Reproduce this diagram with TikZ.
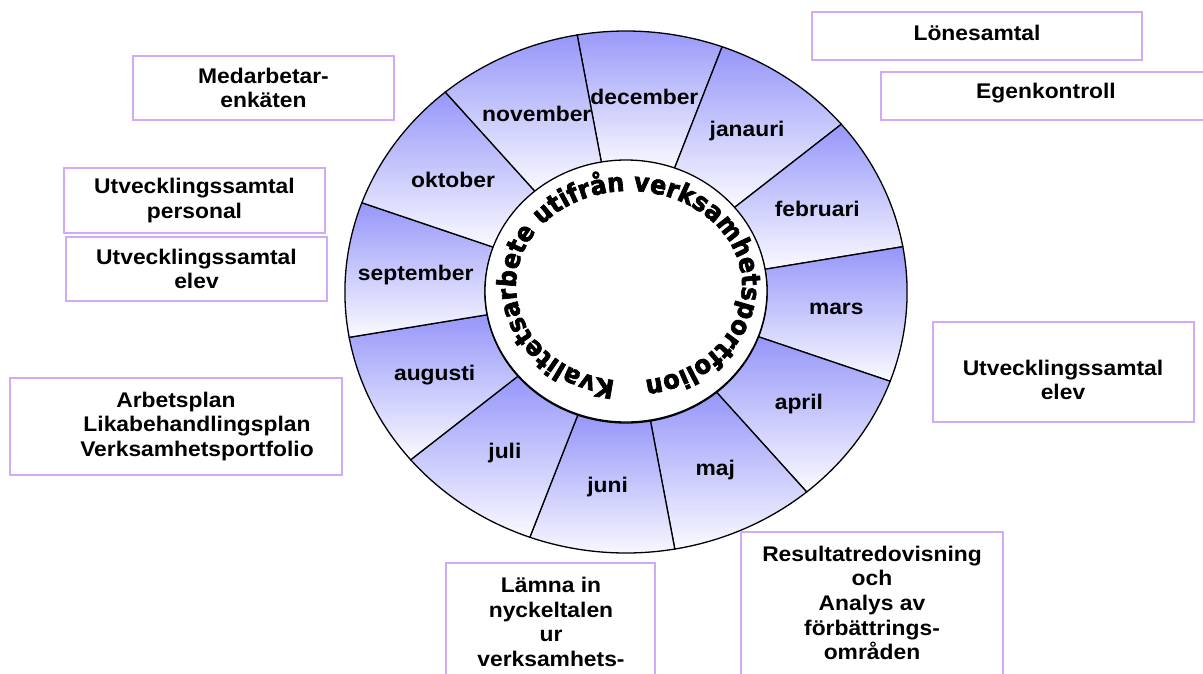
\documentclass[tikz,border=0pt]{standalone}
\usepackage{fontspec}
\setmainfont{Liberation Sans}[FakeStretch=1.077]
\newfontfamily\ringfont{DejaVu Sans Bold}[FakeBold=2.5, FakeStretch=0.92]
\usetikzlibrary{decorations.text}
\definecolor{segtop}{RGB}{150,150,250}
\definecolor{segbot}{RGB}{250,250,255}
\definecolor{boxline}{RGB}{210,170,250}
\tikzset{
  lbl/.style={font=\fontsize{21.2}{24.7}\selectfont\bfseries, align=center, inner sep=0pt},
  infobox/.style={draw=boxline, line width=1.5pt, fill=white, inner sep=0pt},
  seg/.style={top color=segtop, bottom color=segbot, draw=black, line width=1.3pt},
  hub/.style={draw=black, fill=white, line width=1.3pt}
}
\begin{document}
\begin{tikzpicture}[x=1pt,y=1pt]
\useasboundingbox (0,0) rectangle (1203,-673);
\clip (0,0) rectangle (1203,-673);
\fill[white] (0,0) rectangle (1203,-673);

% wheel segments
\begin{scope}[shift={(626,-292)}, xscale=1.077]
\foreach \a/\m [count=\i] in {85/december,55/janauri,25/februari,-5/mars,-35/april,-65/maj,-95/juni,-125/juli,-155/augusti,175/september,145/oktober,115/november}{
  \shadedraw[seg] (\a+15:261) arc[start angle=\a+15, end angle=\a-15, radius=261]
     -- (\a-15:131) arc[start angle=\a-15, end angle=\a+15, radius=131] -- cycle;
  \node[lbl] (m\i) at (\a:196) {\m};
}
\end{scope}

% hub
\draw[hub] (626,-291) ellipse [x radius=141, y radius=131];
\path[decorate, decoration={text along path,
   text={|\ringfont\fontsize{26}{26}\selectfont|Kvalitetsarbete utifrån verksamhetsportfolion},
   text align={fit to path}}]
   (629,-286) ++(-97:113 and 95) arc[start angle=-97, end angle=-442, x radius=113, y radius=95];

% boxes left
\node[infobox, lbl, minimum width=261, minimum height=64] (medb) at (263.5,-88) {Medarbetar-\\enkäten};
\node[infobox, lbl, minimum width=261, minimum height=65] (utvp) at (194.5,-200.5) {Utvecklingssamtal\\personal};
\node[infobox, lbl, minimum width=261, minimum height=64] (utvl) at (196.5,-269) {Utvecklingssamtal\\elev};
\node[infobox, lbl, minimum width=332, minimum height=97] (arb) at (176,-426.5)
  {Arbetsplan\\\hspace*{42pt}Likabehandlingsplan\\\hspace*{42pt}Verksamhetsportfolio};

% boxes right
\node[infobox, minimum width=330, minimum height=48] (loneb) at (977,-36) {};
\node[lbl] (lonet) at (977,-33) {Lönesamtal};
\node[infobox, minimum width=334, minimum height=48] (egenb) at (1048,-96) {};
\node[lbl] (egent) at (1046,-93) {Egenkontroll};
\node[infobox, minimum width=261, minimum height=100] (utvrb) at (1063.5,-372) {};
\node[lbl] (utvrt) at (1063,-380) {Utvecklingssamtal\\elev};

% boxes bottom
\node[infobox, minimum width=209, minimum height=177] (lamb) at (550.5,-651.5) {};
\node[lbl] (lamt) at (551,-622) {Lämna in\\nyckeltalen\\ur\\verksamhets-};
\node[infobox, minimum width=262, minimum height=208] (resb) at (872,-636) {};
\node[lbl] (rest) at (872,-603) {Resultatredovisning\\och\\Analys av\\förbättrings-\\områden};
\end{tikzpicture}
\end{document}
